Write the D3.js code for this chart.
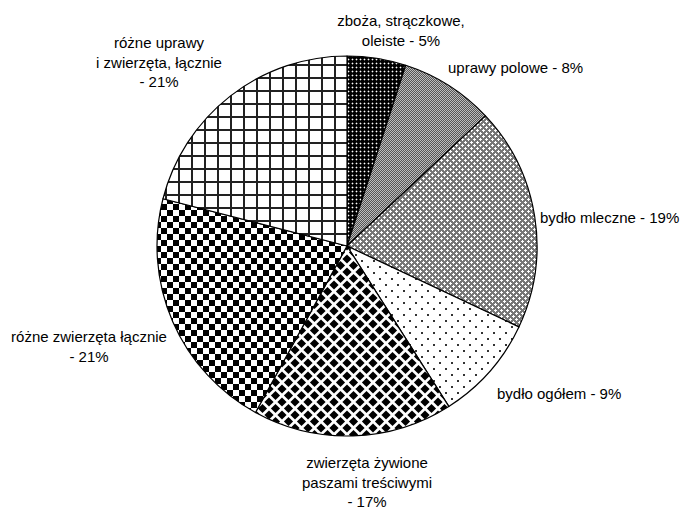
<!DOCTYPE html>
<html>
<head>
<meta charset="utf-8">
<script src="https://cdn.jsdelivr.net/npm/d3@7"></script>
<style>
  html, body { margin: 0; padding: 0; background: #fff; }
  svg { display: block; }
  text { font-family: "Liberation Sans", Arial, sans-serif; font-size: 15px; fill: #000; }
</style>
</head>
<body>
<script>
// ---- data ----
const categories = [
  "zboża, strączkowe, oleiste",
  "uprawy polowe",
  "bydło mleczne",
  "bydło ogółem",
  "zwierzęta żywione paszami treściwymi",
  "różne zwierzęta łącznie",
  "różne uprawy i zwierzęta, łącznie"
];
const values = [5, 8, 19, 9, 17, 21, 21];
const labelLines = [
  ["zboża, strączkowe,", "oleiste - 5%"],
  ["uprawy polowe - 8%"],
  ["bydło mleczne - 19%"],
  ["bydło ogółem - 9%"],
  ["zwierzęta żywione", "paszami treściwymi", "- 17%"],
  ["różne zwierzęta łącznie", "- 21%"],
  ["różne uprawy", "i zwierzęta, łącznie", "- 21%"]
];

// ---- layout ----
const W = 684, H = 509;
const cx = 347, cy = 246, R = 190;
const labelPos = [
  {x: 401, y: 20, anchor: "middle"},
  {x: 448, y: 67, anchor: "start"},
  {x: 540, y: 217, anchor: "start"},
  {x: 497, y: 393, anchor: "start"},
  {x: 367, y: 462, anchor: "middle"},
  {x: 89,  y: 336, anchor: "middle"},
  {x: 159, y: 42,  anchor: "middle"}
];
const lineH = 19.5;

const svg = d3.select("body").append("svg").attr("width", W).attr("height", H);
const defs = svg.append("defs");

function pat(id, w, h) {
  return defs.append("pattern").attr("id", id)
    .attr("patternUnits", "userSpaceOnUse")
    .attr("x", 0).attr("y", 0).attr("width", w).attr("height", h);
}
function px(p, x, y, w, h, c) {
  p.append("rect").attr("x", x).attr("y", y).attr("width", w).attr("height", h)
    .attr("fill", c).attr("shape-rendering", "crispEdges");
}
// 0: black with white dots
{ const p = pat("p0", 4, 4);
  px(p, 0, 0, 4, 4, "#000");
  px(p, 0, 1, 3, 1, "#555"); px(p, 1, 0, 1, 3, "#555");
  px(p, 1, 1, 1, 1, "#fff"); }
// 1: fine gray checker
{ const p = pat("p1", 2, 2);
  px(p, 0, 0, 2, 2, "#bdbdbd");
  px(p, 0, 0, 1, 1, "#555"); px(p, 1, 1, 1, 1, "#555"); }
// 2: gray with white crosses
{ const p = pat("p2", 6, 6);
  px(p, 0, 0, 6, 6, "#777");
  px(p, 1, 0, 1, 3, "#fff"); px(p, 0, 1, 3, 1, "#fff");
  px(p, 4, 3, 1, 3, "#fff"); px(p, 3, 4, 3, 1, "#fff"); }
// 3: white with sparse black dots
{ const p = pat("p3", 12, 12);
  px(p, 0, 0, 12, 12, "#fff");
  px(p, 2, 2, 2, 2, "#333"); px(p, 8, 8, 2, 2, "#333"); }
// 4: black rounded diamonds lattice
{ const s = 13, p = pat("p4", s, s);
  px(p, 0, 0, s, s, "#fff");
  const h = 4.6;
  const centers = [[s / 2, s / 2], [0, 0], [s, 0], [0, s], [s, s]];
  centers.forEach(([a, b]) => {
    p.append("path").attr("d", `M${a},${b - h}L${a + h},${b}L${a},${b + h}L${a - h},${b}Z`)
      .attr("fill", "#000");
  }); }
// 5: checkerboard
{ const p = pat("p5", 12, 12);
  px(p, 0, 0, 12, 12, "#fff");
  px(p, 0, 0, 6, 6, "#000"); px(p, 6, 6, 6, 6, "#000"); }
// 6: grid lines
{ const p = pat("p6", 13, 13);
  px(p, 0, 0, 13, 13, "#fff");
  px(p, 0, 0, 2, 13, "#222"); px(p, 0, 0, 13, 2, "#222"); }

const pie = d3.pie().sort(null).value(d => d)
  .startAngle(0).endAngle(2 * Math.PI);
const arc = d3.arc().innerRadius(0).outerRadius(R);
const arcs = pie(values);

const g = svg.append("g").attr("transform", `translate(${cx},${cy})`);
g.selectAll("path.slice").data(arcs).enter().append("path")
  .attr("class", "slice")
  .attr("d", arc)
  .attr("fill", (d, i) => `url(#p${i})`)
  .attr("stroke", "#000")
  .attr("stroke-width", 1.2)
  .attr("stroke-linejoin", "round");

const lab = svg.append("g");
labelLines.forEach((lines, i) => {
  const t = lab.append("text")
    .attr("x", labelPos[i].x).attr("y", labelPos[i].y)
    .attr("text-anchor", labelPos[i].anchor)
    .attr("dominant-baseline", "central");
  lines.forEach((s, j) => {
    t.append("tspan").attr("x", labelPos[i].x).attr("dy", j === 0 ? 0 : lineH).text(s);
  });
});
</script>
</body>
</html>
